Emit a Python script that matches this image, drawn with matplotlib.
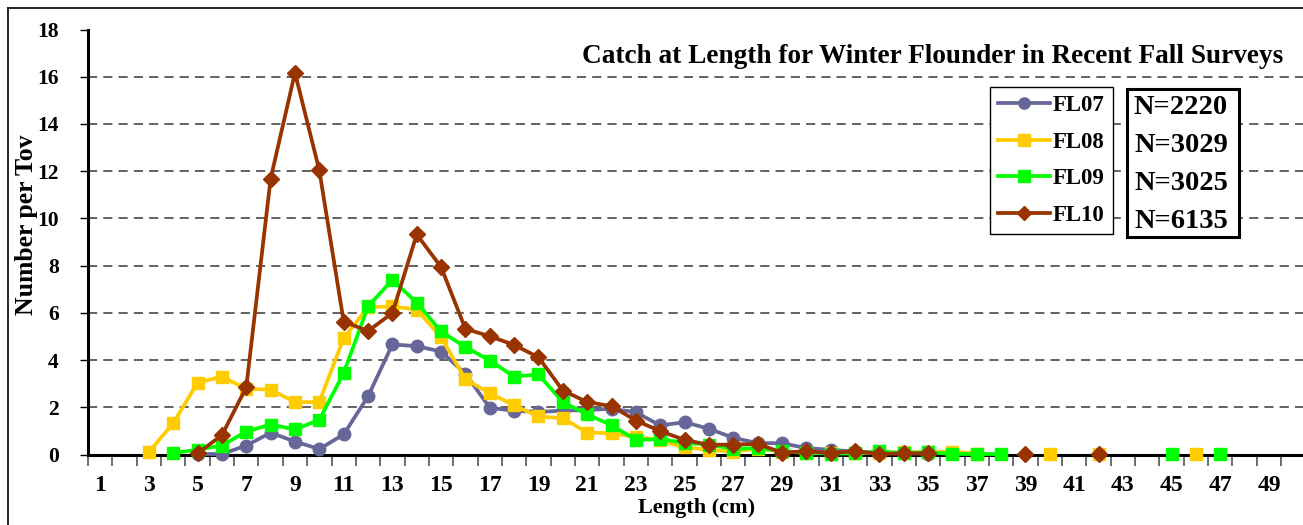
import numpy as np
import matplotlib
matplotlib.use("Agg")
import matplotlib.pyplot as plt
from matplotlib.patches import Rectangle
from matplotlib.lines import Line2D

nan = np.nan

# Length classes (cm)
lengths = list(range(1, 51))

# Number per tow by length class, one list per fall survey (index 0 -> 1 cm)
fl07 = [nan, nan, nan, nan, 0.02, 0.02, 0.38, 0.92, 0.55, 0.23,
        0.85, 2.46, 4.66, 4.59, 4.36, 3.42, 1.98, 1.85, 1.80, 1.86,
        1.88, 1.94, 1.79, 1.23, 1.37, 1.09, 0.71, 0.48, 0.48, 0.27,
        0.20, 0.12, 0.08, 0.05, 0.04, nan, nan, nan, nan, nan,
        nan, nan, nan, nan, nan, nan, nan, nan, nan, nan]
fl08 = [nan, nan, 0.10, 1.33, 3.04, 3.30, 2.78, 2.75, 2.22, 2.22,
        4.93, 6.24, 6.27, 6.14, 4.97, 3.18, 2.60, 2.08, 1.61, 1.54,
        0.93, 0.90, 0.75, 0.60, 0.30, 0.20, 0.12, 0.25, 0.12, 0.08,
        0.05, 0.08, 0.06, 0.10, 0.10, 0.12, 0.04, nan, nan, 0.03,
        nan, 0.03, nan, nan, nan, 0.03, nan, nan, nan, nan]
fl09 = [nan, nan, nan, 0.06, 0.20, 0.38, 0.97, 1.27, 1.06, 1.47,
        3.45, 6.27, 7.40, 6.43, 5.21, 4.55, 3.98, 3.30, 3.39, 2.22,
        1.70, 1.24, 0.62, 0.65, 0.50, 0.42, 0.24, 0.27, 0.14, 0.08,
        0.04, 0.05, 0.13, 0.06, 0.10, 0.02, 0.02, 0.02, nan, nan,
        nan, nan, nan, nan, 0.02, nan, 0.02, nan, nan, nan]
fl10 = [nan, nan, nan, nan, 0.05, 0.82, 2.85, 11.68, 16.17, 12.03,
        5.63, 5.23, 5.99, 9.32, 7.94, 5.32, 5.01, 4.64, 4.12, 2.71,
        2.22, 2.05, 1.44, 0.99, 0.62, 0.41, 0.42, 0.45, 0.08, 0.14,
        0.06, 0.14, 0.02, 0.05, 0.05, nan, nan, nan, 0.01, nan,
        nan, 0.01, nan, nan, nan, nan, nan, nan, nan, nan]

series_names = ["FL07", "FL08", "FL09", "FL10"]
sample_sizes = ["N=2220", "N=3029", "N=3025", "N=6135"]
y_ticks = [0, 2, 4, 6, 8, 10, 12, 14, 16, 18]
x_labels = list(range(1, 50, 2))

styles = [
    dict(color="#666699", marker="o", ms=9),
    dict(color="#FFCC00", marker="s", ms=9),
    dict(color="#00FF00", marker="s", ms=9),
    dict(color="#993300", marker="D", ms=8),
]

serif = ["Liberation Serif", "DejaVu Serif"]
plt.rcParams["font.family"] = serif
plt.rcParams["font.weight"] = "bold"

W, H = 1303, 525
fig = plt.figure(figsize=(W / 100, H / 100), dpi=100)

def fx(px):
    return px / W

def fy(py):
    return 1 - py / H

ax_left, ax_right, ax_top, ax_bottom = 88, 1305.5, 29.5, 454.5
ax = fig.add_axes([fx(ax_left), fy(ax_bottom), fx(ax_right) - fx(ax_left),
                   (ax_bottom - ax_top) / H])

for name, vals, st in zip(series_names, [fl07, fl08, fl09, fl10], styles):
    ax.plot(lengths, vals, color=st["color"], lw=2.7, marker=st["marker"],
            ms=st["ms"], mec=st["color"], mfc=st["color"], label=name,
            zorder=4, clip_on=False)

ax.set_xlim(0.5, 50.5)
ax.set_ylim(0, 18)

# dashed horizontal gridlines
for yv in y_ticks[1:-1]:
    ax.axhline(yv, color="#383838", lw=1.1, ls=(0, (6, 4)), zorder=1)

for s in ["top", "right"]:
    ax.spines[s].set_visible(False)
for s in ["left", "bottom"]:
    ax.spines[s].set_linewidth(2.2)
    ax.spines[s].set_color("black")
    ax.spines[s].set_zorder(3)

ax.set_yticks(y_ticks)
ax.set_yticklabels([str(v) for v in y_ticks], fontsize=15.5, fontweight="bold")
ax.tick_params(axis="y", direction="out", length=6, width=1, pad=15)

ax.set_xticks(x_labels)
ax.set_xticklabels([str(v) for v in x_labels], fontsize=17, fontweight="bold")
ax.set_xticks(np.arange(0.5, 51, 1), minor=True)
ax.tick_params(axis="x", which="major", length=0, pad=15)
ax.tick_params(axis="x", which="minor", direction="out", length=8, width=1.2,
               color="#555555")

ax.set_ylabel("Number per Tov", fontsize=18.5, fontweight="bold")
ax.yaxis.set_label_coords((38 - ax_left) / (ax_right - ax_left), 0.54)
ax.set_xlabel("Length (cm)", fontsize=16, fontweight="bold", labelpad=1)

fig.text(fx(1283), fy(63), "Catch at Length for Winter Flounder in Recent Fall Surveys",
         ha="right", va="baseline", fontsize=19.6, fontweight="bold")

leg = ax.legend(loc="upper left", bbox_to_anchor=(fx(990), fy(87)),
                bbox_transform=fig.transFigure, borderaxespad=0,
                frameon=True, fancybox=False, framealpha=1, edgecolor="black",
                prop=dict(family=serif, weight="bold", size=16.5),
                handlelength=2.25, handletextpad=0.15, labelspacing=0.68,
                borderpad=0.35, markerscale=0.9)
leg.get_frame().set_linewidth(1)
leg.set_zorder(6)

# sample size box
fig.add_artist(Rectangle((fx(1127), fy(237)), fx(1239) - fx(1127), (237 - 89) / H,
                         transform=fig.transFigure, facecolor="white",
                         edgecolor="black", lw=2.2, zorder=6))
for i, txt in enumerate(sample_sizes):
    fig.text(fx(1181), fy(108 + i * 37.7), txt, ha="center", va="center",
             fontsize=20.5, fontweight="bold", zorder=7)

# chart-area frame
fig.add_artist(Line2D([fx(8), fx(8)], [fy(8), 0], transform=fig.transFigure,
                      color="black", lw=1.2))
fig.add_artist(Line2D([fx(8), 1], [fy(8), fy(8)], transform=fig.transFigure,
                      color="black", lw=1.2))

fig.savefig("out.png", dpi=100)
